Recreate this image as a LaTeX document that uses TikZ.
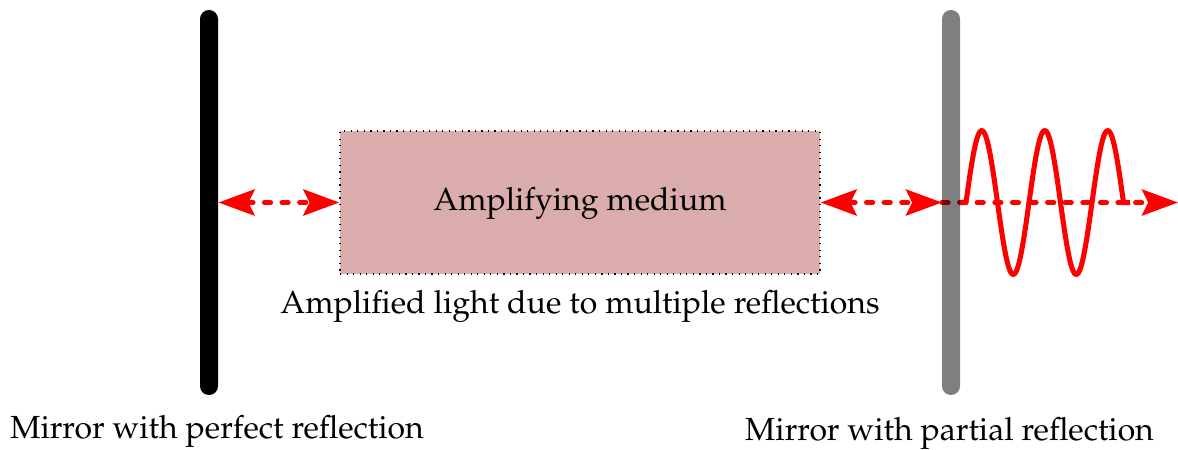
\documentclass[tikz,border=0pt]{standalone}
\usepackage[T1]{fontenc}
\usepackage{mathpazo}
\usetikzlibrary{arrows.meta}
\definecolor{medfill}{RGB}{218,172,172}
\def\px{0.375pt}
\tikzset{
  mirror/.style={fill=black, minimum width=18*\px, minimum height=385*\px, rounded corners=8.9*\px, inner sep=0pt, draw=none},
  medbox/.style={draw=black, dotted, line width=0.45pt, fill=medfill, minimum width=480*\px, minimum height=143*\px, inner sep=0pt},
  lbl/.style={font=\fontsize{12}{14}\selectfont, inner sep=0pt},
  beam/.style={draw=red, line width=1.9pt, line cap=round, dash pattern=on 2.3pt off 4.3pt},
  ltip/.tip={Stealth[length=13.5pt, width=9.75pt, inset=2.3pt]},
  wave/.style={draw=red, line width=1.9pt, line join=round}
}
\begin{document}
\begin{tikzpicture}[x=0.375pt, y=-0.375pt]
\useasboundingbox (0,0) rectangle (1178,449);
\node[mirror] (mL) at (209,202.5) {};
\node[medbox] (med) at (580,202.5) {};
\node[lbl] (medtxt) at (580,203) {Amplifying medium};
\node[lbl] (amp) at (580,306) {Amplified light due to multiple reflections};
\node[lbl] (lL) at (217,431) {Mirror with perfect reflection};
\node[lbl] (lR) at (949.5,433) {Mirror with partial reflection};
\coordinate (mRc) at (951,202.5);
\coordinate (mRw) at (942,202.5);
\coordinate (out) at (1178,202.5);
\draw[beam, ltip-ltip] (mL.east) -- (med.west);
\draw[beam, ltip-ltip] (med.east) -- (mRw);
\draw[beam, -ltip] (mRw) -- (out);
\draw[wave] (960,202.5) -- (966,202.5) -- plot[domain=0:157.5, samples=120] ({966+\x},{202.5-72*sin(\x/63*360)}) -- (1130,202.5);
\node[mirror, fill opacity=0.5] (mR) at (mRc) {};
\end{tikzpicture}
\end{document}
